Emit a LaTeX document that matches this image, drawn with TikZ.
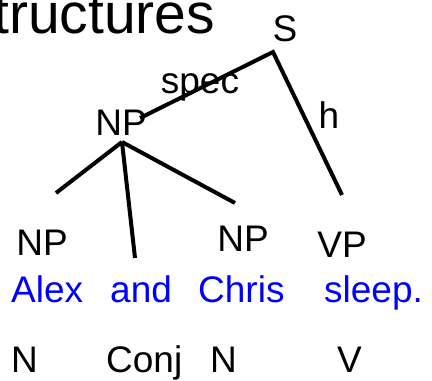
\documentclass[tikz,border=0pt]{standalone}
\usepackage{fontspec}
\setmainfont{Liberation Sans}
\begin{document}
\begin{tikzpicture}[x=1pt, y=-1pt,
    lbl/.style={inner sep=0pt, font=\fontsize{37}{40}\selectfont},
    word/.style={lbl, anchor=base west, text=blue},
    tag/.style={lbl, anchor=base west},
    arc/.style={line width=4pt, line join=miter}]
    \useasboundingbox (0,0) rectangle (432,381);

    % Tiêu đề (bị cắt ở mép trái)
    \node[inner sep=0pt, anchor=base west, font=\fontsize{57}{60}\selectfont] (title) at (-7,33) {tructures};

    % Các nút của cây
    \node[lbl, anchor=base] (s) at (285,41) {S};
    \node[lbl, anchor=base] (np) at (121,135) {NP};
    \node[lbl, anchor=base] (spec) at (200,93) {spec};
    \node[lbl, anchor=base] (h) at (329,128) {h};
    \node[lbl, anchor=base] (np1) at (42,255) {NP};
    \node[lbl, anchor=base] (np2) at (243,251) {NP};
    \node[lbl, anchor=base] (vp) at (342,257) {VP};

    % Câu (màu xanh dương)
    \node[word] (alex) at (11,302) {Alex};
    \node[word] (and) at (110,302) {and};
    \node[word] (chris) at (198,302) {Chris};
    \node[word] (sleep) at (324,302) {sleep.};

    % Từ loại ở dưới
    \node[tag] (n1) at (11,372) {N};
    \node[tag] (conj) at (106,372) {Conj};
    \node[tag] (n2) at (210,372) {N};
    \node[tag] (v) at (337,372) {V};

    % Các cạnh
    \coordinate (s-top) at (273,52);
    \coordinate (s-np) at (140,118);
    \coordinate (s-vp) at (342,195);
    \coordinate (np-top) at (122,142);
    \coordinate (np-l) at (56,193);
    \coordinate (np-m) at (135,258);
    \coordinate (np-r) at (235,203);
    \draw[arc] (s-np) -- (s-top) -- (s-vp);
    \draw[arc] (np-top) -- (np-l);
    \draw[arc] (np-top) -- (np-m);
    \draw[arc] (np-top) -- (np-r);
\end{tikzpicture}
\end{document}
